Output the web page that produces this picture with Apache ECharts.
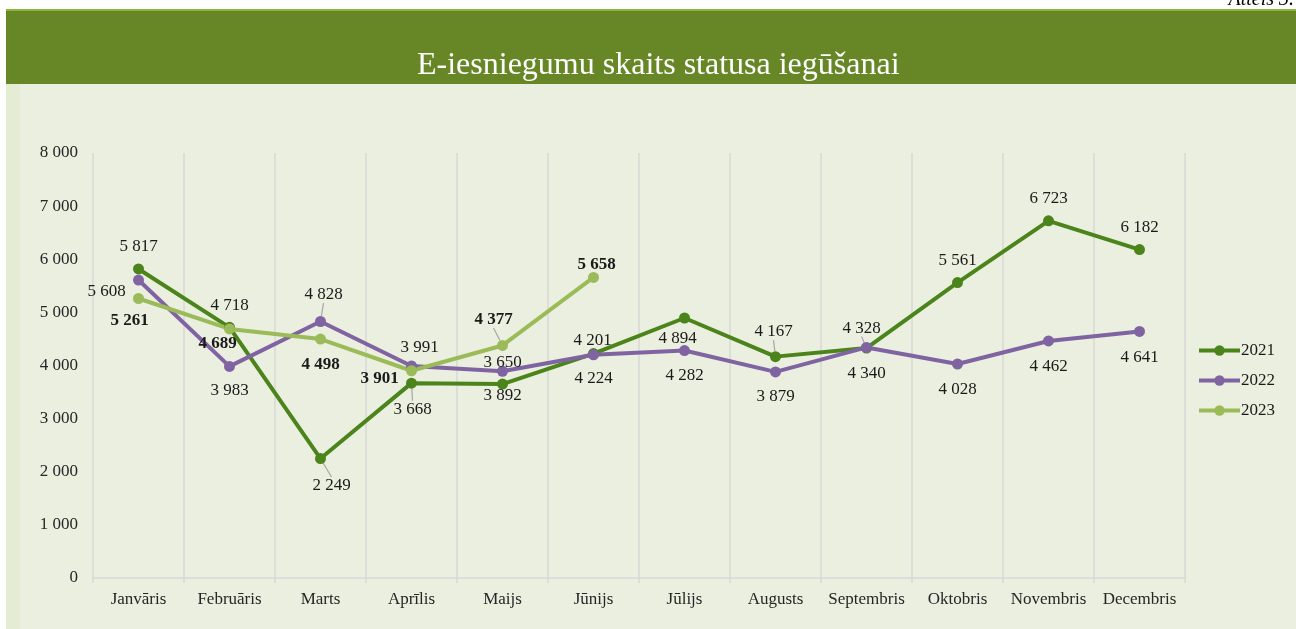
<!DOCTYPE html>
<html lang="lv" style="background: #FFFFFF;height: 100%">
<head>
  <meta charset="utf-8" />
  <title>E-iesniegumu skaits statusa iegūšanai</title>
  <script src="https://cdn.jsdelivr.net/npm/echarts@6/dist/echarts.min.js"></script>
  <style>
    body { margin: 0; background: #FFFFFF; }
    .bg { position: absolute; }
  </style>
</head>
<body>
<div class="bg" style="left:6px;top:9px;width:1290px;height:75px;background:#678626;"></div>
<div class="bg" style="left:6px;top:9px;width:1290px;height:2px;background:#8DB43D;"></div>
<div class="bg" style="left:6px;top:84px;width:14px;height:545px;background:#E4EDD3;"></div>
<div class="bg" style="left:20px;top:84px;width:1276px;height:545px;background:#EBEFDF;"></div>
<div id="chart" style="position:absolute;left:0;top:0;width:1296px;height:629px;"></div>
<script>
    const months = ['Janvāris', 'Februāris', 'Marts', 'Aprīlis', 'Maijs', 'Jūnijs',
        'Jūlijs', 'Augusts', 'Septembris', 'Oktobris', 'Novembris', 'Decembris'];
    const years = ['2021', '2022', '2023'];
    const y2021 = [5817, 4718, 2249, 3668, 3650, 4224, 4894, 4167, 4328, 5561, 6723, 6182];
    const y2022 = [5608, 3983, 4828, 3991, 3892, 4201, 4282, 3879, 4340, 4028, 4462, 4641];
    const y2023 = [5261, 4689, 4498, 3901, 4377, 5658, null, null, null, null, null, null];

    // label shift from the point (px), and which labels get a leader line
    const off2021 = [[0, -22], [0, -22], [11, 27], [1, 26], [0, -22], [0, 25], [-7, 21], [-2, -25], [-5, -20], [0, -22], [0, -22], [0, -22]];
    const off2022 = [[-32, 11], [0, 24], [3, -27], [8, -18], [0, 24], [-1, -14], [0, 25], [0, 25], [0, 26], [0, 26], [0, 26], [0, 26]];
    const off2023 = [[-9, 22], [-12, 15], [0, 26], [-32, 8], [-9, -26], [3, -13]];
    const lead2021 = [2, 3, 7, 8];
    const lead2022 = [2];
    const lead2023 = [4];

    const serif = "'Liberation Serif', 'Times New Roman', serif";
    const fmt = v => String(v).replace(/\B(?=(\d{3})+(?!\d))/g, ' ');

    function mkSeries(name, values, offs, leads, color, bold) {
        return {
            name: name,
            type: 'line',
            data: values.map((v, i) => leads.indexOf(i) >= 0
                ? { value: v, labelLine: { show: true } }
                : v),
            symbol: 'circle',
            symbolSize: 11,
            itemStyle: { color: color },
            lineStyle: { color: color, width: 4 },
            connectNulls: false,
            label: {
                show: true,
                position: 'inside',
                formatter: p => fmt(p.value),
                fontFamily: serif,
                fontSize: 17,
                fontWeight: bold ? 'bold' : 'normal',
                color: '#1A1A1A'
            },
            labelLine: { show: false, lineStyle: { color: '#A6A6A6', width: 1.2 } },
            labelLayout: p => {
                const o = offs[p.dataIndex] || [0, -20];
                return { dx: o[0], dy: o[1] };
            },
            emphasis: { disabled: true },
            animation: false
        };
    }

    const chart = echarts.init(document.getElementById('chart'));
    chart.setOption({
        backgroundColor: 'transparent',
        title: {
            text: 'E-iesniegumu skaits statusa iegūšanai',
            left: 417,
            top: 50,
            padding: 0,
            textStyle: { fontFamily: serif, fontSize: 32, fontWeight: 'normal', color: '#FFFFFF' }
        },
        graphic: [{
            type: 'text',
            right: 2,
            top: -10,
            style: { text: 'Attēls 3.', font: "italic 20px 'Liberation Serif', serif", fill: '#000' }
        }],
        legend: {
            data: years,
            orient: 'vertical',
            left: 1197,
            top: 342,
            padding: 0,
            itemWidth: 41,
            itemHeight: 13,
            itemGap: 13,
            lineStyle: { width: 4 },
            textStyle: { fontFamily: serif, fontSize: 17, color: '#1A1A1A', padding: [0, 0, 0, -4] }
        },
        grid: { left: 93, right: 111, top: 153, bottom: 51, containLabel: false },
        xAxis: {
            type: 'category',
            data: months,
            boundaryGap: true,
            axisLine: { lineStyle: { color: '#D9D9D9', width: 1.5 } },
            axisTick: { show: true, interval: 0, length: 5, lineStyle: { color: '#D9D9D9', width: 1.5 } },
            splitLine: { show: true, interval: 0, lineStyle: { color: '#D9D9D9', width: 1.5 } },
            axisLabel: { interval: 0, fontFamily: serif, fontSize: 17, color: '#262626', margin: 13 }
        },
        yAxis: {
            type: 'value',
            min: 0,
            max: 8000,
            interval: 1000,
            axisLine: { show: false },
            axisTick: { show: false },
            splitLine: { show: false },
            axisLabel: { fontFamily: serif, fontSize: 17, color: '#262626', margin: 15, formatter: fmt }
        },
        series: [
            mkSeries('2021', y2021, off2021, lead2021, '#4A841B', false),
            mkSeries('2022', y2022, off2022, lead2022, '#8064A2', false),
            mkSeries('2023', y2023, off2023, lead2023, '#9BBB59', true)
        ]
    });

    window.addEventListener('resize', () => {
        chart?.resize();
    });
</script>
</body>
</html>
